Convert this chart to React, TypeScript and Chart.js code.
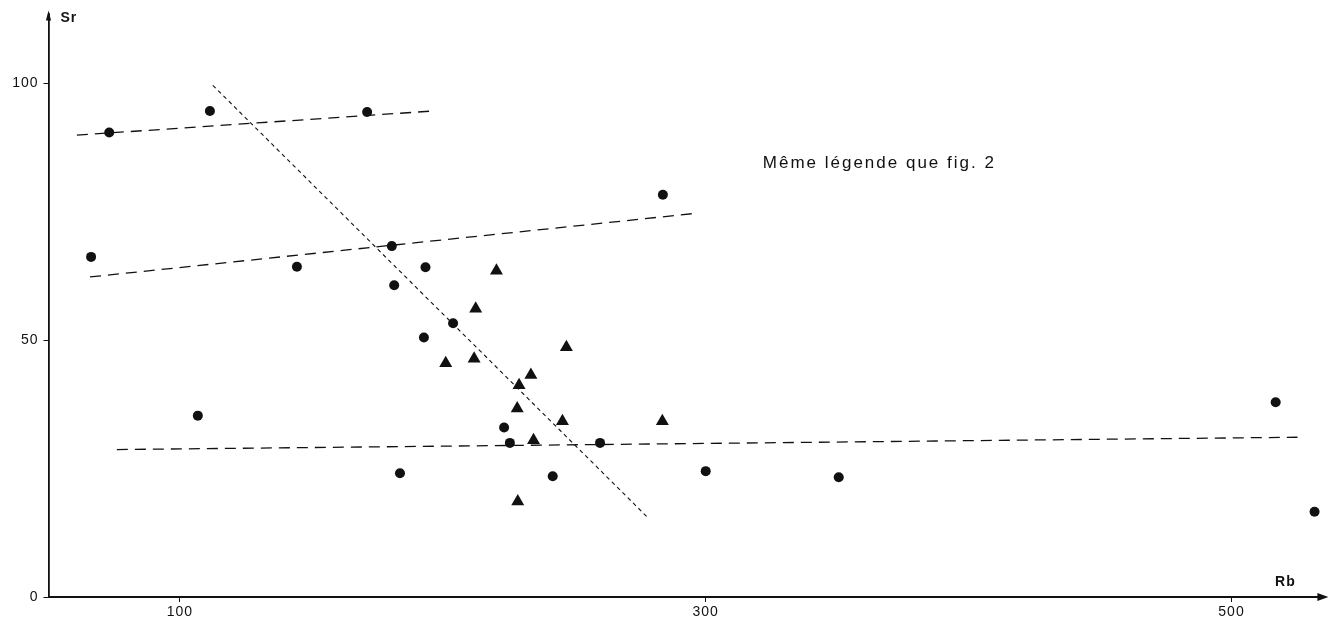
import React, { useEffect, useRef } from "react";
import { Chart, registerables } from "chart.js";

Chart.register(...registerables);

// ---- Data (Rb on x, Sr on y) ----
const circleRb = [73.1, 111.4, 171.2, 66.2, 144.5, 180.6, 181.5, 193.4, 203.9, 192.8, 106.8, 183.7, 223.3, 225.5, 241.8, 259.8, 283.7, 300.0, 350.6, 516.8, 531.6];
const circleSr = [90.4, 94.6, 94.4, 66.2, 64.3, 68.3, 60.7, 64.2, 53.3, 50.5, 35.3, 24.1, 33.0, 30.0, 23.5, 30.0, 78.3, 24.5, 23.3, 37.9, 16.6];

const triangleRb = [220.4, 212.5, 201.1, 211.9, 247.0, 233.5, 229.0, 228.3, 234.5, 245.5, 283.5, 228.5];
const triangleSr = [63.5, 56.1, 45.5, 46.4, 48.6, 43.2, 41.2, 36.7, 30.5, 34.2, 34.2, 18.6];

// Trend lines (end points)
const trendARb = [60.8, 196.2];
const trendASr = [89.9, 94.6];
const trendBRb = [65.8, 294.7];
const trendBSr = [62.3, 74.6];
const trendCRb = [76.0, 525.1];
const trendCSr = [28.7, 31.1];
const trendDRb = [112.5, 277.5];
const trendDSr = [99.6, 15.7];

const xTicks = [100, 300, 500];
const yTicks = [0, 50, 100];

const xAxisTitle = "Rb";
const yAxisTitle = "Sr";
const noteText = "Même légende que fig. 2";
const notePos = { rb: 321.7, sr: 84.4 };

const INK = "#111111";
const FONT = "'Liberation Sans', Arial, Helvetica, sans-serif";

const pts = (xs: number[], ys: number[]) => xs.map((x, i) => ({ x, y: ys[i] }));

const spacingPlugin = {
  id: "spacing",
  beforeDraw(chart: any) {
    (chart.ctx as any).letterSpacing = "1px";
  },
};

const decorPlugin = {
  id: "decor",
  afterDraw(chart: any) {
    const { ctx, chartArea } = chart;
    const xs = chart.scales.x;
    const ys = chart.scales.y;
    ctx.save();
    ctx.fillStyle = INK;
    // y arrow
    const ax = chartArea.left;
    const at = chartArea.top;
    ctx.beginPath();
    ctx.moveTo(ax, at - 3);
    ctx.lineTo(ax - 2.6, at + 7);
    ctx.lineTo(ax + 2.6, at + 7);
    ctx.closePath();
    ctx.fill();
    // x arrow
    const bx = chartArea.right;
    const by = chartArea.bottom;
    ctx.beginPath();
    ctx.moveTo(bx + 7, by);
    ctx.lineTo(bx - 4, by - 4);
    ctx.lineTo(bx - 4, by + 4);
    ctx.closePath();
    ctx.fill();
    // axis titles
    (ctx as any).letterSpacing = "1px";
    ctx.font = `bold 14px ${FONT}`;
    ctx.textBaseline = "middle";
    ctx.textAlign = "left";
    ctx.fillText(yAxisTitle, ax + 12, at + 5);
    ctx.textAlign = "center";
    ctx.fillText(xAxisTitle, bx - 36, by - 15);
    // note
    ctx.font = `17px ${FONT}`;
    (ctx as any).letterSpacing = "2px";
    ctx.textAlign = "left";
    ctx.textBaseline = "middle";
    ctx.fillText(noteText, xs.getPixelForValue(notePos.rb), ys.getPixelForValue(notePos.sr));
    ctx.restore();
  },
};

export default function App() {
  const ref = useRef<HTMLCanvasElement | null>(null);
  useEffect(() => {
    if (!ref.current) return;
    const dashLong = [11, 7];
    const lineDs = (label: string, xs: number[], ys: number[], dash: number[], w: number) => ({
      label,
      data: pts(xs, ys),
      showLine: true,
      borderColor: INK,
      borderWidth: w,
      borderDash: dash,
      pointRadius: 0,
      fill: false,
      order: 5,
    });
    const chart = new Chart(ref.current, {
      type: "scatter",
      data: {
        datasets: [
          {
            label: "circles",
            data: pts(circleRb, circleSr),
            pointStyle: "circle",
            pointRadius: 5,
            backgroundColor: INK,
            borderColor: INK,
            borderWidth: 0,
            order: 1,
          },
          {
            label: "triangles",
            data: pts(triangleRb, triangleSr),
            pointStyle: "triangle",
            pointRadius: 7.5,
            backgroundColor: INK,
            borderColor: INK,
            borderWidth: 0,
            order: 1,
          },
          lineDs("A", trendARb, trendASr, dashLong, 1.3),
          lineDs("B", trendBRb, trendBSr, dashLong, 1.3),
          lineDs("C", trendCRb, trendCSr, dashLong, 1.3),
          lineDs("D", trendDRb, trendDSr, [4, 3.5], 1.1),
        ] as any,
      },
      options: {
        responsive: false,
        animation: false,
        layout: { padding: { top: 12, right: 8.6, left: 0, bottom: 0 } },
        plugins: { legend: { display: false }, tooltip: { enabled: false } },
        scales: {
          x: {
            type: "linear",
            position: "bottom",
            min: 50,
            max: 534.2,
            afterBuildTicks: (s: any) => {
              s.ticks = xTicks.map((v) => ({ value: v }));
            },
            afterFit: (s: any) => {
              s.height = 27;
            },
            border: { display: true, color: INK, width: 2 },
            grid: { drawOnChartArea: false, drawTicks: true, tickLength: 5, color: INK, lineWidth: 1 },
            ticks: { color: INK, font: { family: FONT, size: 14 }, padding: 2, maxRotation: 0 },
          },
          y: {
            type: "linear",
            position: "left",
            min: 0,
            max: 113.6,
            afterBuildTicks: (s: any) => {
              s.ticks = yTicks.map((v) => ({ value: v }));
            },
            afterFit: (s: any) => {
              s.width = 48.5;
            },
            border: { display: true, color: INK, width: 1.8 },
            grid: { drawOnChartArea: false, drawTicks: true, tickLength: 5, color: INK, lineWidth: 1 },
            ticks: { color: INK, font: { family: FONT, size: 14 }, padding: 5 },
          },
        },
      },
      plugins: [spacingPlugin, decorPlugin],
    } as any);
    return () => chart.destroy();
  }, []);
  return (
    <div style={{ position: "fixed", left: 0, top: 0, width: 1330, height: 624, background: "#fff" }}>
      <canvas ref={ref} width={1330} height={624} style={{ width: 1330, height: 624, display: "block" }} />
    </div>
  );
}
